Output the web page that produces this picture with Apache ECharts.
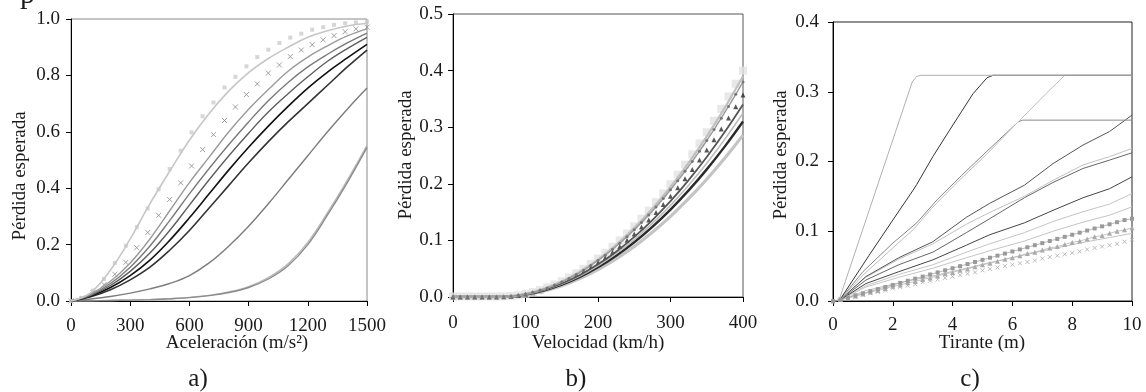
<!DOCTYPE html>
<html><head><meta charset="utf-8">
<script src="https://cdn.jsdelivr.net/npm/echarts@6/dist/echarts.min.js"></script>
<style>html,body{margin:0;padding:0;background:#fff}#c{width:1146px;height:392px}</style>
</head><body><div id="c"></div>
<script>
// ---------- Panel a: Aceleración ----------
const accelX = [0,100,200,300,400,500,600,700,800,900,1000,1100,1200,1300,1400,1500];
const accelA = [0,0.03,0.11,0.22,0.345,0.46,0.57,0.665,0.745,0.81,0.86,0.90,0.935,0.958,0.975,0.985];
const accelB = [0,0.025,0.07,0.135,0.22,0.32,0.42,0.51,0.60,0.68,0.75,0.815,0.865,0.905,0.94,0.965];
const accelC = [0,0.022,0.062,0.12,0.195,0.285,0.38,0.47,0.555,0.635,0.71,0.775,0.83,0.875,0.915,0.95];
const accelD = [0,0.02,0.055,0.105,0.17,0.25,0.34,0.43,0.515,0.595,0.67,0.735,0.795,0.85,0.895,0.935];
const accelE = [0,0.018,0.048,0.09,0.145,0.215,0.295,0.38,0.465,0.545,0.62,0.69,0.755,0.812,0.862,0.91];
const accelF = [0,0.015,0.04,0.075,0.12,0.18,0.25,0.33,0.41,0.49,0.565,0.635,0.70,0.765,0.83,0.89];
const accelG = [0,0.007,0.016,0.028,0.043,0.062,0.09,0.135,0.195,0.265,0.345,0.43,0.515,0.6,0.68,0.755];
const accelH = [0,0.001,0.002,0.003,0.005,0.008,0.012,0.019,0.03,0.048,0.078,0.125,0.2,0.305,0.42,0.545];
const accelH2 = [0,0.001,0.002,0.003,0.005,0.008,0.013,0.02,0.032,0.051,0.083,0.132,0.208,0.313,0.428,0.552];
const accelMarkX = [0,56,111,167,222,278,333,389,444,500,556,611,667,722,778,833,889,944,1000,1056,1111,1167,1222,1278,1333,1389,1444,1500];
const accelDots = [0,0.01,0.037,0.078,0.135,0.196,0.262,0.328,0.396,0.468,0.533,0.598,0.655,0.704,0.757,0.795,0.832,0.865,0.891,0.915,0.934,0.948,0.962,0.971,0.979,0.985,0.988,0.991];
const accelCross = [0,0.009,0.03,0.058,0.095,0.137,0.189,0.243,0.304,0.36,0.419,0.479,0.537,0.59,0.64,0.688,0.732,0.77,0.808,0.837,0.867,0.89,0.909,0.926,0.941,0.955,0.965,0.971];

// ---------- Panel b: Velocidad ----------
const velX = [0,25,50,75,100,125,150,175,200,225,250,275,300,325,350,375,400];
const velL1 = [0,0,0,0.0008,0.0054,0.0143,0.0273,0.0446,0.0661,0.0918,0.1218,0.156,0.1943,0.2369,0.2837,0.3347,0.39];
const velL3 = [0,0,0,0.0007,0.0047,0.0124,0.0238,0.0389,0.0577,0.0801,0.1062,0.136,0.1694,0.2066,0.2474,0.2918,0.34];
const velL4 = [0,0,0,0.0006,0.0045,0.0119,0.0228,0.0372,0.0551,0.0765,0.1015,0.13,0.1619,0.1974,0.2364,0.2789,0.325];
const velL5 = [0,0,0,0.0006,0.0043,0.0113,0.0217,0.0355,0.0526,0.073,0.0968,0.124,0.1545,0.1883,0.2255,0.2661,0.31];
const velL6 = [0,0,0,0.0006,0.004,0.0105,0.02,0.0327,0.0485,0.0674,0.0893,0.1144,0.1425,0.1737,0.2081,0.2455,0.286];
const velMarkX = [0,10,20,30,40,50,60,70,80,90,100,110,120,130,140,150,160,170,180,190,200,210,220,230,240,250,260,270,280,290,300,310,320,330,340,350,360,370,380,390,400];
const velSquares = [0.001,0.001,0.001,0.001,0.001,0.001,0.001,0.0012,0.0016,0.0031,0.0055,0.0087,0.0125,0.017,0.0221,0.028,0.0346,0.0419,0.0498,0.0585,0.068,0.0779,0.0886,0.1,0.1121,0.1249,0.1384,0.1526,0.1675,0.183,0.1993,0.2163,0.2339,0.2522,0.2713,0.291,0.3114,0.3325,0.3543,0.3768,0.4];
const velDots = [0,0,0,0,0,0,0,0.0003,0.0013,0.003,0.0053,0.0082,0.0118,0.0161,0.021,0.0266,0.0329,0.0398,0.0473,0.0556,0.0644,0.0739,0.0842,0.095,0.1065,0.1187,0.1315,0.145,0.1591,0.1739,0.1894,0.2055,0.2222,0.2396,0.2577,0.2765,0.2958,0.3159,0.3366,0.358,0.38];
const velTri = [0,0,0,0,0,0,0,0.0003,0.0012,0.0028,0.0049,0.0077,0.0111,0.0151,0.0198,0.025,0.0309,0.0374,0.0445,0.0522,0.0605,0.0695,0.0791,0.0893,0.1001,0.1115,0.1235,0.1362,0.1495,0.1634,0.1779,0.193,0.2088,0.2251,0.2421,0.2597,0.2779,0.2968,0.3162,0.3363,0.357];

// ---------- Panel c: Tirante ----------
const tirC1 = [[0,0],[0.2,0.001],[2.65,0.314],[2.8,0.322],[2.95,0.3236],[10,0.3236]];
const tirC2 = [[0,0],[0.22,0.001],[1.2,0.065],[2.0,0.116],[2.68,0.159],[2.8,0.167],[3.34,0.207],[3.9,0.245],[4.68,0.297],[5.15,0.32],[5.35,0.3236],[10,0.3236]];
const tirC3 = [[0,0],[0.22,0.001],[1,0.037],[2,0.076],[2.7,0.103],[3.3,0.133],[4.2,0.172],[5.2,0.213],[6.24,0.259],[7.13,0.2975],[7.75,0.3236],[10,0.3236]];
const tirC4 = [[0,0],[0.22,0.001],[1,0.042],[2,0.083],[2.8,0.112],[3.5,0.146],[4.3,0.18],[5.13,0.214],[6.2,0.257],[6.35,0.2593],[10,0.2593]];
const tirX = [0,0.22,1.1,2.2,3.34,4.46,5.24,6.4,7.36,8.36,9.25,10];
const tirC5 = [0,0.001,0.035,0.062,0.085,0.12,0.14,0.166,0.197,0.2235,0.243,0.2665];
const tirC6 = [0,0.001,0.034,0.06,0.082,0.11,0.127,0.15,0.173,0.195,0.207,0.2187];
const tirC8 = [0,0.001,0.03,0.052,0.07,0.098,0.118,0.148,0.17,0.19,0.202,0.2125];
const tirC7 = [0,0.001,0.025,0.042,0.059,0.08,0.095,0.112,0.13,0.148,0.161,0.178];
const tirC9 = [0,0.001,0.022,0.038,0.052,0.07,0.082,0.098,0.114,0.128,0.139,0.154];
const tirC10 = [0,0.001,0.02,0.034,0.047,0.062,0.072,0.086,0.1,0.113,0.123,0.135];
const tirC11 = [0,0.001,0.015,0.026,0.036,0.047,0.055,0.066,0.075,0.084,0.091,0.097];
const tirMarkX = [0,0.25,0.5,0.75,1,1.25,1.5,1.75,2,2.25,2.5,2.75,3,3.25,3.5,3.75,4,4.25,4.5,4.75,5,5.25,5.5,5.75,6,6.25,6.5,6.75,7,7.25,7.5,7.75,8,8.25,8.5,8.75,9,9.25,9.5,9.75,10];
const tirSquares = [0,0.002,0.005,0.008,0.011,0.014,0.017,0.02,0.023,0.026,0.029,0.032,0.035,0.038,0.041,0.044,0.047,0.05,0.053,0.056,0.059,0.062,0.065,0.068,0.071,0.074,0.077,0.08,0.083,0.086,0.089,0.092,0.095,0.098,0.101,0.104,0.107,0.11,0.113,0.116,0.118];
const tirTri = [0,0.002,0.004,0.007,0.01,0.013,0.015,0.018,0.021,0.023,0.026,0.028,0.031,0.033,0.036,0.039,0.041,0.044,0.046,0.049,0.052,0.054,0.057,0.06,0.062,0.065,0.068,0.07,0.073,0.076,0.078,0.081,0.084,0.086,0.089,0.092,0.094,0.097,0.1,0.102,0.105];
const tirCross = [0,0.002,0.004,0.006,0.009,0.011,0.013,0.015,0.018,0.02,0.022,0.024,0.027,0.029,0.031,0.033,0.035,0.037,0.039,0.041,0.044,0.046,0.048,0.05,0.052,0.054,0.056,0.058,0.061,0.063,0.065,0.067,0.069,0.071,0.074,0.076,0.078,0.08,0.082,0.085,0.088];

// ---------- text ----------
const yTitle = 'Pérdida esperada';
const xTitles = ['Aceleración (m/s²)', 'Velocidad (km/h)', 'Tirante (m)'];
const panelTags = ['a)', 'b)', 'c)'];

const FONT = 'Liberation Serif';
const TXT = '#1a1a1a';
const FS = 19;
const crossPath = 'path://M0,0L10,10M10,0L0,10';

function pairs(xs, ys){ return xs.map((x,i)=>[x, ys[i]]); }
function ln(g, data, color, width, extra){
  return Object.assign({type:'line', xAxisIndex:g, yAxisIndex:g, data, symbol:'none', smooth:0.4,
    lineStyle:{color, width}, animation:false, silent:true}, extra||{});
}
function mk(g, data, symbol, size, itemStyle, extra){
  return Object.assign({type:'scatter', xAxisIndex:g, yAxisIndex:g, data, symbol, symbolSize:size,
    itemStyle, animation:false, silent:true}, extra||{});
}

const grids = [
  {left:71, top:19, width:296, height:282, border:'#8a8a8a'},
  {left:453, top:14, width:290, height:283, border:'#555'},
  {left:833, top:22, width:299, height:279, border:'#222'}
];
const xCfg = [
  {min:0, max:1500, interval:300, margin:16},
  {min:0, max:400, interval:100, margin:17},
  {min:0, max:10, interval:2, margin:15}
];
const yCfg = [
  {min:0, max:1, interval:0.2, margin:11},
  {min:0, max:0.5, interval:0.1, margin:10},
  {min:0, max:0.4, interval:0.1, margin:14}
];

const axisLine = {show:true, onZero:false, lineStyle:{color:'#000', width:1}};
const axisTick = {show:true, length:5, lineStyle:{color:'#000', width:1}};

function txt(x, y, text, size, rot){
  return {type:'text', x, y, rotation:rot||0, silent:true,
    style:{text, fontFamily:FONT, fontSize:size, fill:TXT, align:'center', verticalAlign:'middle'}};
}

const option = {
  backgroundColor:'#fff',
  animation:false,
  grid: grids.map(g=>({left:g.left, top:g.top, width:g.width, height:g.height, show:true,
    borderColor:g.border, borderWidth:1, backgroundColor:'rgba(0,0,0,0)'})),
  xAxis: xCfg.map((c,i)=>({type:'value', gridIndex:i, min:c.min, max:c.max, interval:c.interval,
    axisLine, axisTick, splitLine:{show:false},
    axisLabel:{margin:c.margin, fontFamily:FONT, fontSize:FS, color:TXT, formatter:v=>String(v)}})),
  yAxis: yCfg.map((c,i)=>({type:'value', gridIndex:i, min:c.min, max:c.max, interval:c.interval,
    axisLine, axisTick, splitLine:{show:false},
    axisLabel:{margin:c.margin, fontFamily:FONT, fontSize:FS, color:TXT, formatter:v=>v.toFixed(1)}})),
  series: [
    // panel a
    ln(0, pairs(accelX, accelH2), '#b8b8b8', 1.4),
    ln(0, pairs(accelX, accelH), '#8c8c8c', 1.4),
    ln(0, pairs(accelX, accelG), '#7c7c7c', 1.4),
    ln(0, pairs(accelX, accelF), '#333333', 1.6),
    ln(0, pairs(accelX, accelE), '#111111', 1.6),
    ln(0, pairs(accelX, accelD), '#5e5e5e', 1.4),
    ln(0, pairs(accelX, accelC), '#7a7a7a', 1.4),
    ln(0, pairs(accelX, accelB), '#9a9a9a', 1.4),
    ln(0, pairs(accelX, accelA), '#c6c6c6', 1.6),
    mk(0, pairs(accelMarkX, accelCross), crossPath, 5, {color:'none', borderColor:'#8a8a8a', borderWidth:1}),
    mk(0, pairs(accelMarkX, accelDots), 'rect', 4, {color:'#cccccc'}),
    // panel b
    mk(1, pairs(velMarkX, velSquares), 'rect', 8, {color:'#e2e2e2'}),
    ln(1, pairs(velX, velL6), '#c4c4c4', 3.2),
    ln(1, pairs(velX, velL5), '#2a2a2a', 2.4),
    ln(1, pairs(velX, velL4), '#bdbdbd', 1.6),
    ln(1, pairs(velX, velL3), '#555555', 1.8),
    ln(1, pairs(velX, velL1), '#c0c0c0', 2.2),
    ln(1, pairs(velMarkX, velDots), '#9a9a9a', 1.4, {symbol:'circle', symbolSize:3, showSymbol:true, itemStyle:{color:'#777'}}),
    mk(1, pairs(velMarkX, velTri), 'triangle', 5, {color:'#2a2a2a'}),
    // panel c
    mk(2, pairs(tirMarkX, tirCross), crossPath, 4, {color:'none', borderColor:'#aaaaaa', borderWidth:1}),
    ln(2, pairs(tirX, tirC11), '#c4c4c4', 1, {smooth:false}),
    ln(2, pairs(tirMarkX, tirTri), '#b8b8b8', 0.8, {smooth:false, symbol:'triangle', symbolSize:5, showSymbol:true, itemStyle:{color:'#aaaaaa'}}),
    ln(2, pairs(tirMarkX, tirSquares), '#a8a8a8', 0.8, {smooth:false, symbol:'rect', symbolSize:4, showSymbol:true, itemStyle:{color:'#9a9a9a'}}),
    ln(2, pairs(tirX, tirC10), '#c4c4c4', 1, {smooth:false}),
    ln(2, pairs(tirX, tirC9), '#c4c4c4', 1, {smooth:false}),
    ln(2, pairs(tirX, tirC7), '#444444', 1, {smooth:false}),
    ln(2, pairs(tirX, tirC8), '#666666', 1, {smooth:false}),
    ln(2, pairs(tirX, tirC6), '#c0c0c0', 1, {smooth:false}),
    ln(2, pairs(tirX, tirC5), '#555555', 1, {smooth:false}),
    ln(2, tirC4, '#888888', 1, {smooth:false}),
    ln(2, tirC3, '#bdbdbd', 1, {smooth:false}),
    ln(2, tirC2, '#333333', 1, {smooth:false}),
    ln(2, tirC1, '#b0b0b0', 1, {smooth:false})
  ],
  graphic: [
    {type:'text', x:20, y:-20, silent:true, style:{text:'p', fontFamily:FONT, fontSize:30, fill:TXT, align:'left', verticalAlign:'top'}},
    txt(20, 176, yTitle, FS, Math.PI/2),
    txt(406, 155, yTitle, FS, Math.PI/2),
    txt(781, 155, yTitle, FS, Math.PI/2),
    txt(237, 343, xTitles[0], FS),
    txt(598, 343, xTitles[1], FS),
    txt(982, 343, xTitles[2], FS),
    txt(198, 379, panelTags[0], 25),
    txt(576, 379, panelTags[1], 25),
    txt(970, 379, panelTags[2], 25)
  ]
};
const chart = echarts.init(document.getElementById('c'), null, {renderer:'canvas'});
chart.setOption(option);
</script>
</body></html>
